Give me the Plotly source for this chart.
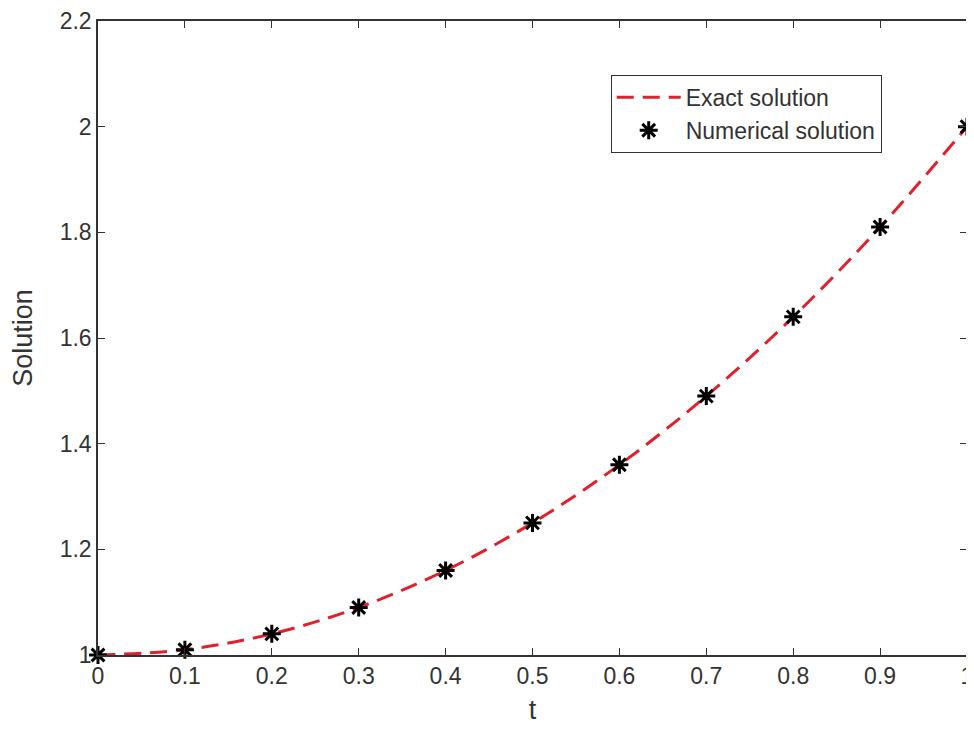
import plotly.graph_objects as go

t_vals = [0.0, 0.1, 0.2, 0.3, 0.4, 0.5, 0.6, 0.7, 0.8, 0.9, 1.0]
exact_vals = [1.00, 1.01, 1.04, 1.09, 1.16, 1.25, 1.36, 1.49, 1.64, 1.81, 2.00]
numerical_vals = [1.00, 1.01, 1.04, 1.09, 1.16, 1.25, 1.36, 1.49, 1.64, 1.81, 2.00]

x_ticks = [0, 0.1, 0.2, 0.3, 0.4, 0.5, 0.6, 0.7, 0.8, 0.9, 1]
x_tick_labels = ["0", "0.1", "0.2", "0.3", "0.4", "0.5", "0.6", "0.7", "0.8", "0.9", "1"]
y_ticks = [1, 1.2, 1.4, 1.6, 1.8, 2, 2.2]
y_tick_labels = ["1", "1.2", "1.4", "1.6", "1.8", "2", "2.2"]

font_family = "Liberation Sans, Arial, Helvetica, sans-serif"
txt = "#333333"

fig = go.Figure()
fig.add_trace(go.Scatter(
    x=t_vals, y=exact_vals, mode="lines", name="Exact solution",
    line=dict(color="#e0202a", width=3, dash="17px,9px", shape="spline", smoothing=1.0),
    cliponaxis=False,
))
fig.add_trace(go.Scatter(
    x=t_vals, y=numerical_vals, mode="markers", name="Numerical solution",
    marker=dict(symbol="asterisk-open", size=15, color="black",
                line=dict(color="black", width=3)),
    cliponaxis=False,
))

axis_common = dict(
    showgrid=False, zeroline=False, showline=True, linecolor="#333333", linewidth=1.5,
    mirror="ticks", ticks="inside", ticklen=7, tickcolor="#333333", tickwidth=1,
    tickfont=dict(family=font_family, size=23, color=txt),
    automargin=False, ticklabeloverflow="allow",
)

# page body has an 8px margin, so the figure is sized/offset to compensate
fig.update_layout(
    width=966, height=721,
    margin=dict(l=90, r=7, t=13, b=74),
    paper_bgcolor="white", plot_bgcolor="white",
    font=dict(family=font_family, color=txt),
    xaxis=dict(range=[0, 1], tickvals=x_ticks, ticktext=x_tick_labels,
               title=dict(text="t", font=dict(family=font_family, size=27, color=txt), standoff=12),
               **axis_common),
    yaxis=dict(range=[1, 2.2], tickvals=y_ticks, ticktext=y_tick_labels,
               title=dict(text="Solution", font=dict(family=font_family, size=27, color=txt), standoff=20),
               **axis_common),
    legend=dict(
        x=0.59, y=0.915, xanchor="left", yanchor="top",
        bgcolor="white", bordercolor="#333333", borderwidth=1,
        font=dict(family=font_family, size=23, color=txt),
        tracegroupgap=0, itemwidth=64,
    ),
    showlegend=True,
)

fig.write_html("out.html")
